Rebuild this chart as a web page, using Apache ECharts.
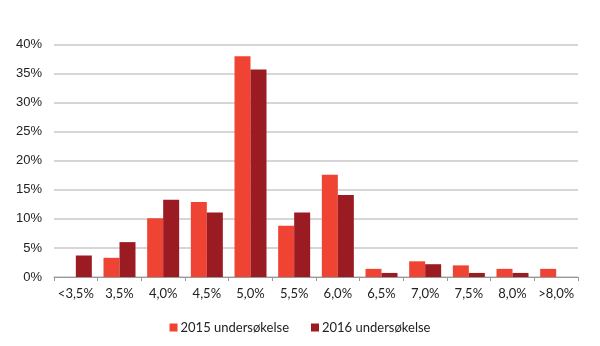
<!DOCTYPE html>
<html>
<head>
<meta charset="utf-8">
<script src="https://cdn.jsdelivr.net/npm/echarts@6/dist/echarts.min.js"></script>
<style>html,body{margin:0;padding:0;background:#fff}#c{width:600px;height:346px}</style>
</head>
<body>
<div id="c"></div>
<script>
const categories = ['<3,5%','3,5%','4,0%','4,5%','5,0%','5,5%','6,0%','6,5%','7,0%','7,5%','8,0%','>8,0%'];
const series2015 = [null, 3.3, 10.1, 12.9, 38.0, 8.8, 17.6, 1.4, 2.7, 2.0, 1.4, 1.4];
const series2016 = [3.7, 6.0, 13.3, 11.1, 35.7, 11.1, 14.1, 0.7, 2.2, 0.7, 0.7, null];
const yTicks = [0, 5, 10, 15, 20, 25, 30, 35, 40];

const chart = echarts.init(document.getElementById('c'), null, {renderer: 'canvas'});
chart.setOption({
  animation: false,
  textStyle: {fontFamily: 'Lato, "Open Sans", sans-serif'},
  grid: {left: 54, right: 22, top: 44.5, bottom: 69, containLabel: false},
  legend: {
    bottom: 7, left: 'center',
    itemWidth: 8, itemHeight: 8, itemGap: 22,
    icon: 'rect',
    textStyle: {fontSize: 13, color: '#222', fontFamily: 'Lato, sans-serif', padding: [0, 0, 0, -2]},
    data: ['2015 undersøkelse', '2016 undersøkelse']
  },
  xAxis: {
    type: 'category',
    data: categories,
    axisLine: {lineStyle: {color: '#999', width: 1}},
    axisTick: {show: true, length: 4, lineStyle: {color: '#999'}},
    axisLabel: {fontSize: 13, color: '#222', margin: 10, interval: 0, fontFamily: 'Lato, sans-serif'}
  },
  yAxis: {
    type: 'value',
    min: yTicks[0], max: yTicks[yTicks.length - 1], interval: 5,
    axisLine: {show: false},
    axisTick: {show: false},
    splitLine: {lineStyle: {color: '#c8c8c8', width: 1.5}},
    axisLabel: {fontSize: 13, color: '#222', margin: 12, formatter: v => v + '%', fontFamily: '"Liberation Sans", Arial, sans-serif'}
  },
  series: [
    {name: '2015 undersøkelse', type: 'bar', data: series2015, barWidth: 16, barGap: '0%', itemStyle: {color: '#ef4433'}},
    {name: '2016 undersøkelse', type: 'bar', data: series2016, barWidth: 16, barGap: '0%', itemStyle: {color: '#9b1b22'}}
  ]
});
</script>
</body>
</html>
